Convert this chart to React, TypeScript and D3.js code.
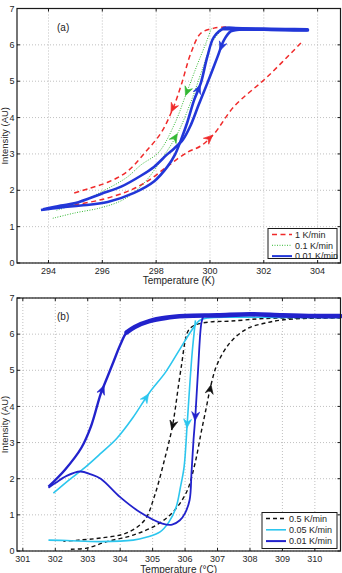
import React from 'react';
import * as d3 from 'd3';

type P = [number, number];

const W = 342;
const H = 573;

// ---------- Panel (a) data ----------
const aXTicks = [294, 296, 298, 300, 302, 304];
const yTicks = [0, 1, 2, 3, 4, 5, 6, 7];
const aLegend = ['1 K/min', '0.1 K/min', '0.01 K/min'];

const aRedCool: P[] = [[300.6, 6.49], [300.15, 6.46], [299.66, 6.32], [299.29, 5.77], [298.95, 4.94], [298.65, 4.3], [298.2, 3.6], [297.6, 3.05], [296.9, 2.5], [296.2, 2.22], [295.5, 2.05], [294.85, 1.9]];
const aRedHeat: P[] = [[294.65, 1.56], [294.96, 1.6], [295.95, 1.74], [296.94, 1.97], [297.68, 2.25], [298.42, 2.66], [299.17, 3.05], [299.66, 3.22], [300.15, 3.55], [300.89, 4.3], [302.13, 5.12], [303.43, 6.09]];
const aGreenHeat: P[] = [[294.16, 1.23], [295.0, 1.38], [295.95, 1.52], [296.8, 1.75], [297.55, 2.2], [298.2, 2.85], [298.8, 3.57], [299.3, 4.45], [299.75, 5.4], [300.1, 6.1], [300.45, 6.42]];
const aGreenCool: P[] = [[300.05, 6.45], [299.85, 6.05], [299.5, 5.4], [299.1, 4.62], [298.7, 3.85], [298.1, 3.05], [297.44, 2.7], [296.9, 2.35], [296.0, 1.97], [295.0, 1.62], [294.3, 1.45]];
const aBlueHeat: P[] = [[293.72, 1.46], [294.46, 1.53], [295.2, 1.58], [296.2, 1.68], [297.18, 1.93], [297.93, 2.25], [298.42, 2.65], [298.7, 2.98], [298.92, 3.38], [299.15, 3.85], [299.41, 4.48], [299.66, 4.95], [299.9, 5.67], [300.15, 6.22], [300.52, 6.45], [301.2, 6.44], [302.0, 6.43], [302.8, 6.42], [303.62, 6.41]];
const aBlueCool: P[] = [[303.62, 6.41], [302.0, 6.42], [301.0, 6.41], [300.77, 6.37], [300.52, 6.13], [300.28, 5.67], [299.9, 4.94], [299.58, 4.35], [299.29, 3.8], [299.0, 3.4], [298.67, 3.15], [298.4, 2.98], [297.93, 2.65], [297.43, 2.4], [296.7, 2.1], [295.95, 1.9], [295.0, 1.65], [294.46, 1.58], [293.8, 1.48]];

// ---------- Panel (b) data ----------
const bXTicks = [301, 302, 303, 304, 305, 306, 307, 308, 309, 310];
const bLegend = ['0.5 K/min', '0.05 K/min', '0.01 K/min'];

const bBlackCool: P[] = [[310.79, 6.45], [309.8, 6.45], [308.4, 6.43], [307.4, 6.36], [306.8, 6.34], [306.3, 6.25], [306.1, 6.1], [306.0, 5.8], [305.9, 5.2], [305.8, 4.6], [305.7, 3.95], [305.6, 3.4], [305.35, 2.47], [305.05, 1.5], [304.75, 0.85], [304.2, 0.5], [303.4, 0.36], [302.7, 0.3], [302.25, 0.27]];
const bBlackHeat: P[] = [[302.48, 0.05], [302.97, 0.08], [303.59, 0.26], [304.4, 0.44], [305.12, 0.72], [305.64, 1.09], [306.05, 1.64], [306.3, 2.4], [306.5, 3.3], [306.65, 3.95], [306.8, 4.6], [307.0, 5.19], [307.41, 5.79], [307.93, 6.16], [308.44, 6.3], [308.96, 6.39], [309.8, 6.44], [310.79, 6.45]];
const bCyanHeat: P[] = [[301.94, 1.6], [302.4, 1.95], [302.9, 2.3], [303.4, 2.7], [303.9, 3.12], [304.4, 3.7], [304.9, 4.38], [305.4, 4.95], [305.85, 5.6], [306.2, 6.1], [306.45, 6.38], [306.7, 6.45], [307.5, 6.47], [309.0, 6.46], [310.79, 6.46]];
const bCyanCool: P[] = [[306.32, 6.38], [306.22, 5.5], [306.13, 4.4], [306.06, 3.44], [305.97, 2.33], [305.86, 1.78], [305.72, 1.2], [305.5, 0.8], [305.23, 0.53], [304.8, 0.38], [304.4, 0.3], [303.4, 0.26], [302.35, 0.29], [301.79, 0.3]];
const bBlueHeat: P[] = [[301.79, 1.78], [302.3, 2.25], [302.8, 2.85], [303.1, 3.45], [303.4, 4.35], [303.6, 4.8], [303.8, 5.25], [304.0, 5.7], [304.2, 6.05], [304.45, 6.2], [304.9, 6.36], [305.4, 6.45], [306.0, 6.5], [307.0, 6.52], [308.0, 6.55], [309.0, 6.52], [310.0, 6.5], [310.79, 6.5]];
const bBlueCool: P[] = [[306.56, 6.5], [306.5, 6.3], [306.4, 5.0], [306.32, 3.77], [306.26, 3.07], [306.2, 2.2], [306.14, 1.41], [306.0, 1.05], [305.84, 0.85], [305.6, 0.73], [305.3, 0.76], [304.6, 1.08], [304.0, 1.49], [303.4, 2.0], [303.1, 2.12], [302.77, 2.2], [302.35, 2.08], [302.0, 1.88], [301.79, 1.75]];

type Series = { pts: P[]; color: string; width: number; dash?: string; plateau?: number; plateauFrom?: number; arrow?: P };

const FONT = '"Liberation Sans", Arial, Helvetica, sans-serif';

function arrowAt(pts: P[], target: P, x: any, y: any) {
  const px = pts.map(p => [x(p[0]), y(p[1])]);
  const tx = x(target[0]), ty = y(target[1]);
  let best = { d: Infinity, X: 0, Y: 0, a: 0 };
  for (let i = 0; i < px.length - 1; i++) {
    const [x1, y1] = px[i], [x2, y2] = px[i + 1];
    const dx = x2 - x1, dy = y2 - y1;
    const L = dx * dx + dy * dy || 1;
    let t = ((tx - x1) * dx + (ty - y1) * dy) / L;
    t = Math.max(0, Math.min(1, t));
    const X = x1 + t * dx, Y = y1 + t * dy;
    const d = (X - tx) ** 2 + (Y - ty) ** 2;
    if (d < best.d) best = { d, X, Y, a: Math.atan2(dy, dx) * 180 / Math.PI };
  }
  return best;
}

function Panel({ top, bottom, domain, xTicks, series, legend, legendSeries, tag, xLabel, xLabelY, tickLabelY, legendBox }: any) {
  const left = 17, right = 340.5;
  const x = d3.scaleLinear().domain(domain).range([left, right]);
  const y = d3.scaleLinear().domain([0, 7]).range([bottom, top]);
  const line = d3.line<P>().x(d => x(d[0])).y(d => y(d[1])).curve(d3.curveCatmullRom.alpha(0.5));
  const cy = (top + bottom) / 2;
  return (
    <g>
      {xTicks.map((t: number) => (
        <line key={'gx' + t} x1={x(t)} x2={x(t)} y1={top} y2={bottom} stroke="#b0b0b0" strokeWidth={0.8} strokeDasharray="1,2" />
      ))}
      {yTicks.map(t => (
        <line key={'gy' + t} x1={left} x2={right} y1={y(t)} y2={y(t)} stroke="#b0b0b0" strokeWidth={0.8} strokeDasharray="1,2" />
      ))}
      {series.map((s: Series, i: number) => (
        <path key={'s' + i} d={line(s.pts) || ''} fill="none" stroke={s.color} strokeWidth={s.width} strokeDasharray={s.dash} strokeLinejoin="round" />
      ))}
      {series.filter((s: Series) => s.plateau).map((s: Series, i: number) => (
        <path key={'pl' + i} d={line(s.pts.filter(p => p[1] >= (s.plateauFrom ?? 6.35))) || ''} fill="none" stroke={s.color} strokeWidth={s.plateau} strokeLinecap="round" strokeLinejoin="round" />
      ))}
      {series.filter((s: Series) => s.arrow).map((s: Series, i: number) => {
        const a = arrowAt(s.pts, s.arrow as P, x, y);
        return (
          <path key={'ar' + i} d="M0,0 L-9,-4 L-6,0 L-9,4 Z" fill={s.color} stroke={s.color} strokeWidth={0.6}
            transform={`translate(${a.X},${a.Y}) rotate(${a.a})`} />
        );
      })}
      <rect x={left} y={top} width={right - left} height={bottom - top} fill="none" stroke="#1a1a1a" strokeWidth={1.2} />
      {xTicks.map((t: number) => (
        <g key={'tx' + t}>
          <line x1={x(t)} x2={x(t)} y1={bottom} y2={bottom - 3} stroke="#1a1a1a" />
          <line x1={x(t)} x2={x(t)} y1={top} y2={top + 3} stroke="#1a1a1a" />
          <text x={x(t)} y={tickLabelY} fontSize={9} fontFamily={FONT} fill="#262626" textAnchor="middle">{t}</text>
        </g>
      ))}
      {yTicks.map(t => (
        <g key={'ty' + t}>
          <line x1={left} x2={left + 3} y1={y(t)} y2={y(t)} stroke="#1a1a1a" />
          <line x1={right} x2={right - 3} y1={y(t)} y2={y(t)} stroke="#1a1a1a" />
          <text x={14.5} y={y(t) + 3.2} fontSize={9} fontFamily={FONT} fill="#262626" textAnchor="end">{t}</text>
        </g>
      ))}
      <text x={57} y={top + 22} fontSize={10} fontFamily={FONT} fill="#222">{tag}</text>
      <text transform={`translate(7.5,${cy}) rotate(-90)`} fontSize={9.5} fontFamily={FONT} fill="#262626" textAnchor="middle">Intensity (AU)</text>
      <text x={(left + right) / 2} y={xLabelY} fontSize={10} fontFamily={FONT} fill="#262626" textAnchor="middle">{xLabel}</text>
      <rect x={legendBox[0]} y={legendBox[1]} width={legendBox[2]} height={legendBox[3]} fill="#fff" stroke="#1a1a1a" strokeWidth={1} />
      {legend.map((l: string, i: number) => {
        const ly = legendBox[1] + 6 + i * legendBox[4];
        const s: Series = legendSeries[i];
        return (
          <g key={'lg' + i}>
            <line x1={legendBox[0] + 4} x2={legendBox[0] + 24} y1={ly} y2={ly} stroke={s.color} strokeWidth={Math.min(s.width, 2)} strokeDasharray={s.dash} />
            <text x={legendBox[0] + 27} y={ly + 3.2} fontSize={9} fontFamily={FONT} fill="#262626">{l}</text>
          </g>
        );
      })}
    </g>
  );
}

export default function App() {
  const red = '#f02a2a', green = '#33b833', blueA = '#2237d8';
  const black = '#111111', cyan = '#2cc6ee', blueB = '#2222cc';
  const aSeries: Series[] = [
    { pts: aRedCool, color: red, width: 1.5, dash: '5,3.5', arrow: [298.55, 4.15] },
    { pts: aRedHeat, color: red, width: 1.5, dash: '5,3.5', arrow: [300.12, 3.5] },
    { pts: aGreenHeat, color: green, width: 1, dash: '1,1.5', arrow: [298.8, 3.55] },
    { pts: aGreenCool, color: green, width: 1, dash: '1,1.5', arrow: [299.1, 4.6] },
    { pts: aBlueHeat, color: blueA, width: 2.6, plateau: 3.8, plateauFrom: 6.38, arrow: [299.65, 4.9] },
    { pts: aBlueCool, color: blueA, width: 2.6, arrow: [300.33, 5.85] },
  ];
  const bSeries: Series[] = [
    { pts: bBlackCool, color: black, width: 1.4, dash: '4,3', arrow: [305.62, 3.35] },
    { pts: bBlackHeat, color: black, width: 1.4, dash: '4,3', arrow: [306.8, 4.6] },
    { pts: bCyanHeat, color: cyan, width: 1.6, arrow: [304.87, 4.35] },
    { pts: bCyanCool, color: cyan, width: 1.6, arrow: [306.06, 3.4] },
    { pts: bBlueHeat, color: blueB, width: 2.4, plateau: 4.6, plateauFrom: 6.0, arrow: [303.45, 4.6] },
    { pts: bBlueCool, color: blueB, width: 1.8, arrow: [306.32, 3.6] },
  ];
  return (
    <svg width={W} height={H} style={{ position: 'absolute', left: 0, top: 0, background: '#fff' }}>
      <rect width={W} height={H} fill="#fff" />
      <Panel top={8.5} bottom={263} domain={[292.83, 304.85]} xTicks={aXTicks} series={aSeries}
        legend={aLegend} legendSeries={[aSeries[0], aSeries[2], aSeries[4]]} tag="(a)"
        xLabel="Temperature (K)" xLabelY={284} tickLabelY={274}
        legendBox={[268, 228.5, 69, 30, 10.8]} />
      <Panel top={298} bottom={551} domain={[300.82, 310.79]} xTicks={bXTicks} series={bSeries}
        legend={bLegend} legendSeries={[bSeries[0], bSeries[2], bSeries[4]]} tag="(b)"
        xLabel="Temperature (°C)" xLabelY={572.5} tickLabelY={562}
        legendBox={[262, 512.5, 75, 36, 11.3]} />
    </svg>
  );
}
